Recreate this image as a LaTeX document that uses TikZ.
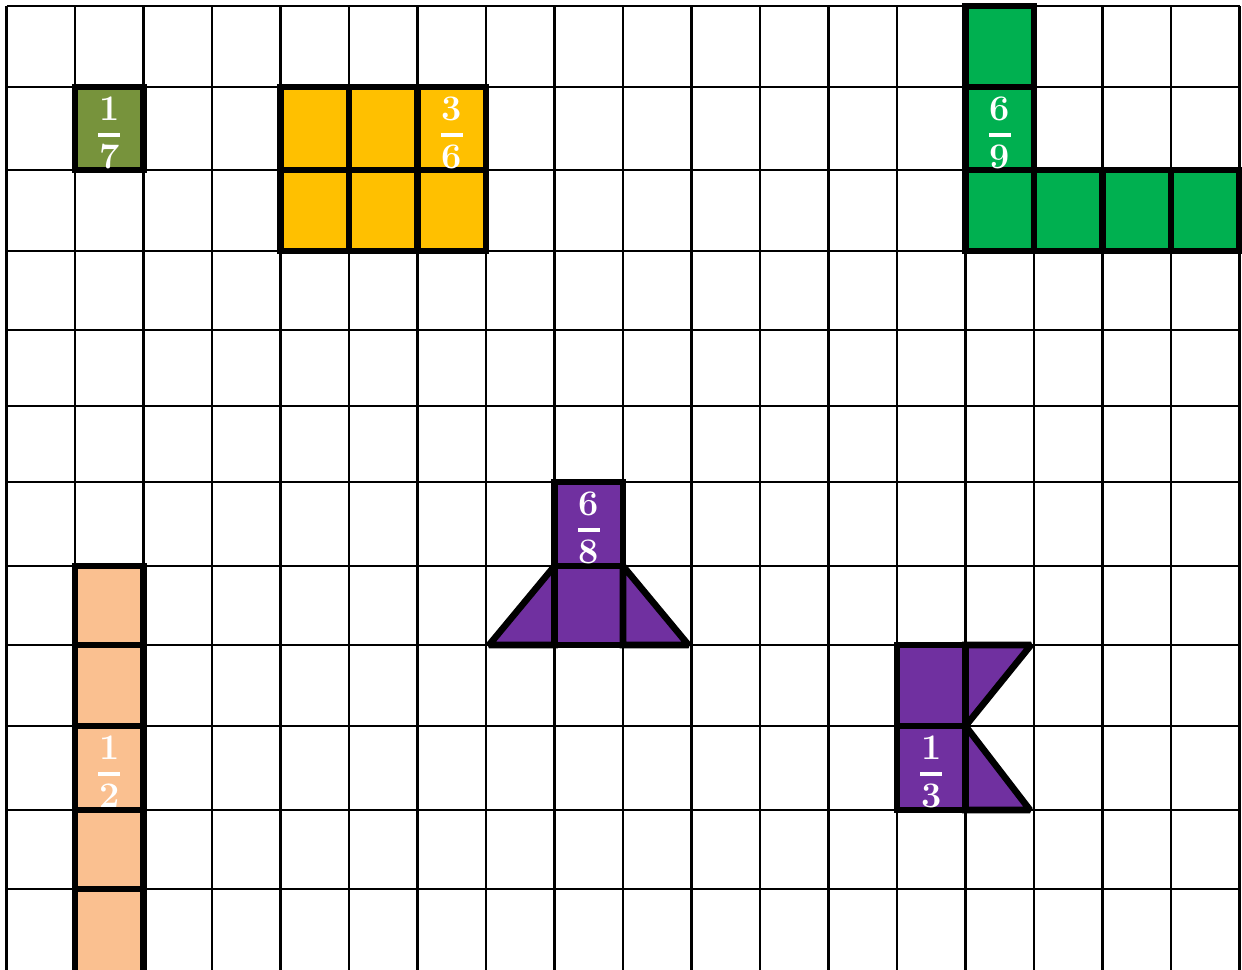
\documentclass[tikz,border=0pt]{standalone}
\usepackage{tikz}
\usetikzlibrary{calc}
\definecolor{cOlive} {RGB}{119,147,60}
\definecolor{cGold}  {RGB}{255,192,0}
\definecolor{cGreen} {RGB}{0,176,80}
\definecolor{cPurple}{RGB}{112,48,160}
\definecolor{cPeach} {RGB}{250,192,144}

% fraction label: name, x, top of cell, numerator, denominator
\newcommand{\fraclabel}[5]{%
  \node[fracdigit] (#1num) at (#2,#3+22) {#4};
  \node[fracdigit] (#1den) at (#2,#3+70) {#5};
  \draw[fracbar] ($(#1num.center)!0.5!(#1den.center)+(-11,2)$) -- ++(22,0);
}

\begin{document}
\begin{tikzpicture}[
  x=0.5pt,y=-0.5pt,
  gridline/.style={line width=1.1pt,black},
  piece/.style={draw=black,line width=3.3pt,line join=miter,miter limit=2},
  fracdigit/.style={inner sep=0pt,text=white,font=\fontsize{18}{18}\selectfont\bfseries},
  fracbar/.style={white,line width=1.6pt},
]
\useasboundingbox (0,0) rectangle (1242,969);
\clip (0,0) rectangle (1242,969);
\fill[white] (0,0) rectangle (1242,969);

% grid
\foreach \i in {0,...,18}
  \draw[gridline] ({6.5+68.5*\i},6) -- ({6.5+68.5*\i},975);
\foreach \y in {6,87,170,251,330,406,482,566,645,726,810,889}
  \draw[gridline] (6.5,\y) -- (1239.5,\y);

% olive square
\filldraw[piece,fill=cOlive] (75,87) rectangle (143.5,170);

% yellow block
\foreach \x in {280.5,349,417.5}
  \foreach \y/\yy in {87/170,170/251}
    \filldraw[piece,fill=cGold] (\x,\y) rectangle ({\x+68.5},\yy);

% green L
\filldraw[piece,fill=cGreen] (965.5,6) rectangle (1034,87);
\filldraw[piece,fill=cGreen] (965.5,87) rectangle (1034,170);
\foreach \x in {965.5,1034,1102.5,1171}
  \filldraw[piece,fill=cGreen] (\x,170) rectangle ({\x+68.5},251);

% purple tower
\filldraw[piece,fill=cPurple] (554.5,482) rectangle (623,566);
\filldraw[piece,fill=cPurple] (554.5,566) rectangle (623,645);
\filldraw[piece,fill=cPurple] (489,645) -- (554.5,566) -- (554.5,645) -- cycle;
\filldraw[piece,fill=cPurple] (623,566) -- (688.5,645) -- (623,645) -- cycle;

% purple flag
\filldraw[piece,fill=cPurple] (897,645) rectangle (965.5,726);
\filldraw[piece,fill=cPurple] (897,726) rectangle (965.5,810);
\filldraw[piece,fill=cPurple] (965.5,645) -- (1031,645) -- (965.5,726) -- cycle;
\filldraw[piece,fill=cPurple] (965.5,726) -- (1030,810) -- (965.5,810) -- cycle;

% peach column
\foreach \y/\yy in {566/645,645/726,726/810,810/889,889/985}
  \filldraw[piece,fill=cPeach] (75,\y) rectangle (143.5,\yy);

% labels
\fraclabel{olive}{109.25}{87}{1}{7}
\fraclabel{gold}{451.75}{87}{3}{6}
\fraclabel{green}{999.75}{87}{6}{9}
\fraclabel{tower}{588.75}{482}{6}{8}
\fraclabel{flag}{931.25}{726}{1}{3}
\fraclabel{peach}{109.25}{726}{1}{2}
\end{tikzpicture}
\end{document}
